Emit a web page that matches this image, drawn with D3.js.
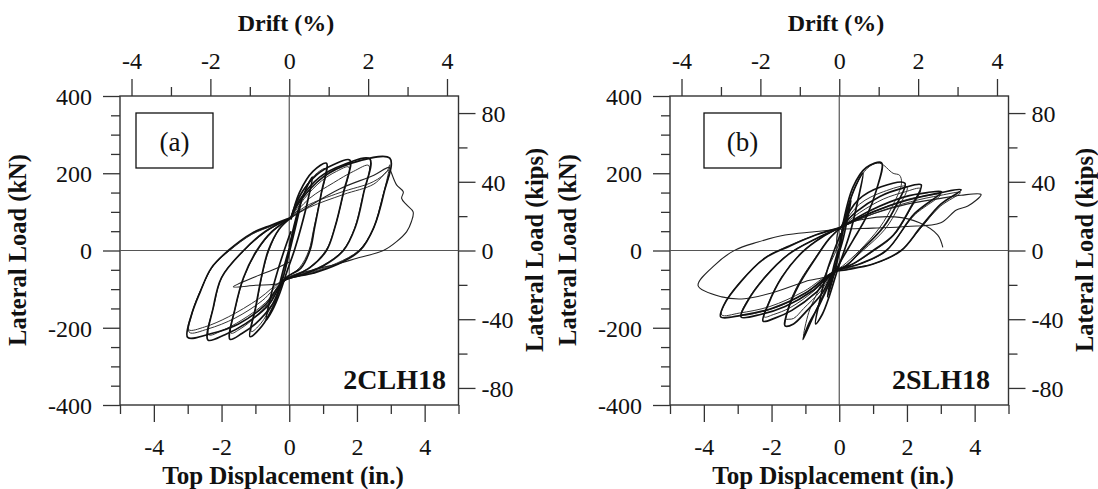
<!DOCTYPE html>
<html>
<head>
<meta charset="utf-8">
<script src="https://cdn.jsdelivr.net/npm/d3@7"></script>
<style>
  body { margin: 0; background: #fff; }
  svg text { font-family: "Liberation Serif", "Times New Roman", serif; fill: #111; }
</style>
</head>
<body>
<svg id="chart" width="1098" height="489"></svg>
<script>
// axis ranges and tick values
const dispDomain = [-5, 5];          // top displacement, in.
const loadDomain = [-400, 400];      // lateral load, kN
const inPerDrift = 1.165;            // in. of displacement per 1 % drift
const kNPerKip = 4.448;

const dispMajor = [-4, -2, 0, 2, 4];
const dispMinor = [-5, -3, -1, 1, 3, 5];
const driftMajor = [-4, -2, 0, 2, 4];
const driftMinor = [-3, -1, 1, 3];
const kNMajor = [-400, -200, 0, 200, 400];
const kNMinor = [-350, -300, -250, -150, -100, -50, 50, 100, 150, 250, 300, 350];
const kipsMajor = [-80, -40, 0, 40, 80];
const kipsMinor = [-60, -20, 20, 60];

// ---- specimen 2CLH18 : [displacement in., load kN] ----
const loopsA = [
  [[0,5],[0.15,60],[0.35,125],[0.25,85],[0.1,30],[0,-5],[-0.15,-60],[-0.35,-115],[-0.25,-75],[-0.1,-25],[0,5]],
  [[0,10],[0.25,100],[0.5,160],[0.68,190],[0.55,130],[0.35,60],[0.15,0],[-0.05,-50],[-0.3,-115],[-0.5,-155],[-0.68,-180],[-0.55,-120],[-0.35,-55],[-0.15,0],[0.05,50]],
  [[0.05,80],[0.3,150],[0.7,205],[1.1,226],[0.95,150],[0.75,60],[0.61,0],[0.35,-45],[-0.15,-75],[-0.45,-140],[-0.8,-195],[-1.16,-223],[-1.0,-150],[-0.8,-60],[-0.62,0],[-0.3,55],[0.05,85]],
  [[0.05,85],[0.3,140],[0.8,195],[1.3,222],[1.79,234],[1.6,150],[1.35,60],[1.1,0],[0.6,-45],[0.1,-68],[-0.15,-78],[-0.5,-140],[-1.0,-190],[-1.4,-215],[-1.75,-230],[-1.6,-150],[-1.35,-70],[-0.96,0],[-0.5,50],[0.05,85]],
  [[0.05,85],[0.3,130],[0.9,190],[1.6,222],[2.38,237],[2.2,150],[1.95,60],[1.6,0],[1.0,-40],[0.3,-65],[-0.15,-78],[-0.6,-140],[-1.3,-190],[-1.9,-218],[-2.4,-232],[-2.25,-150],[-2.0,-70],[-1.35,0],[-0.7,50],[0.05,85]],
  [[0.05,85],[0.3,125],[1.0,190],[1.8,225],[2.97,239],[2.8,150],[2.5,60],[2.09,0],[1.4,-37],[0.7,-59],[-0.15,-78],[-0.7,-140],[-1.5,-190],[-2.3,-215],[-3.0,-225],[-2.9,-170],[-2.63,-107],[-2.3,-45],[-1.8,0],[-1.1,45],[-0.52,66],[0.05,85]]
];
const repeatsA = [
  [[0.05,85],[0.35,145],[0.75,195],[1.08,212],[0.93,140],[0.72,55],[0.58,0],[0.3,-45],[-0.15,-76],[-0.5,-140],[-0.85,-190],[-1.12,-210],[-0.97,-140],[-0.78,-55],[-0.6,0],[-0.3,55],[0.05,85]],
  [[0.05,85],[0.45,135],[0.95,180],[1.4,205],[1.76,216],[1.58,140],[1.33,55],[1.08,0],[0.55,-47],[-0.15,-76],[-0.6,-135],[-1.1,-180],[-1.45,-203],[-1.72,-214],[-1.57,-140],[-1.32,-65],[-0.94,0],[-0.5,48],[0.05,85]],
  [[0.05,85],[0.6,135],[1.3,175],[1.9,205],[2.35,220],[2.17,140],[1.92,55],[1.58,0],[1.0,-38],[0.3,-63],[-0.15,-76],[-0.7,-135],[-1.4,-180],[-2.0,-208],[-2.38,-218],[-2.22,-140],[-1.97,-65],[-1.33,0],[-0.7,48],[0.05,85]],
  [[0.05,85],[0.5,115],[1.5,150],[2.48,178],[2.88,204],[2.97,222],[2.78,145],[2.48,55],[2.07,0],[1.4,-35],[0.7,-57],[-0.15,-76],[-0.8,-130],[-1.6,-175],[-2.4,-203],[-2.95,-212],[-2.86,-160],[-2.6,-100],[-2.27,-42],[-1.78,0],[-1.1,43],[-0.5,65],[0.05,85]],
  [[0.05,85],[0.6,112],[1.6,145],[2.5,172],[2.95,208],[2.76,140],[2.46,52],[2.05,0],[1.4,-33],[0.7,-55],[-0.15,-75],[-0.9,-125],[-1.8,-172],[-2.5,-198],[-2.97,-205],[-2.85,-155],[-2.58,-95],[-2.25,-40],[-1.76,0],[-1.1,42],[-0.5,64],[0.05,85]]
];
const finalA = [
  [[0.05,85],[0.5,110],[1.5,160],[2.5,195],[2.95,215],[3.0,205],[3.17,170],[3.37,152],[3.32,135],[3.47,118],[3.66,100],[3.61,75],[3.47,49],[3.17,23],[2.78,0],[2.0,-20],[1.5,-33],[0.71,-50],[0.02,-68],[-0.27,-85],[-1.0,-90],[-1.65,-94],[-1.0,-68],[-0.37,-46],[0.0,-30]]
];

// ---- specimen 2SLH18 ----
const loopsB = [
  [[0,5],[0.15,65],[0.35,130],[0.25,85],[0.1,25],[0,-5],[-0.15,-60],[-0.35,-120],[-0.25,-75],[-0.1,-20],[0,5]],
  [[0,10],[0.25,110],[0.5,170],[0.7,200],[0.55,130],[0.35,55],[0.15,0],[-0.05,-50],[-0.3,-120],[-0.5,-165],[-0.7,-190],[-0.55,-120],[-0.35,-50],[-0.15,0],[0.05,45]],
  [[0.1,65],[0.41,165],[0.8,215],[1.25,227],[1.1,157],[0.8,87],[0.41,27],[0.01,-33],[-0.38,-102],[-0.77,-171],[-1.07,-230],[-0.9,-190],[-0.58,-140],[-0.28,-80],[0.0,0],[0.1,65]],
  [[0.05,60],[0.56,131],[1.24,165],[1.94,174],[1.7,120],[1.3,60],[0.65,0],[0.2,-40],[-0.15,-55],[-0.5,-110],[-1.0,-160],[-1.35,-190],[-1.6,-195],[-1.5,-150],[-1.2,-90],[-0.7,-20],[-0.3,30],[0.05,60]],
  [[0.05,60],[0.5,100],[1.2,140],[1.9,162],[2.42,170],[2.1,110],[1.6,40],[1.0,0],[0.4,-35],[-0.15,-55],[-0.7,-110],[-1.4,-155],[-1.9,-175],[-2.25,-183],[-2.1,-140],[-1.7,-70],[-1.1,-5],[-0.5,35],[0.05,60]],
  [[0.05,60],[0.95,105],[1.93,139],[2.6,150],[3.02,152],[2.23,96],[1.39,0],[0.6,-35],[-0.15,-55],[-0.8,-105],[-1.6,-145],[-2.3,-165],[-2.9,-172],[-2.7,-130],[-2.2,-70],[-1.5,-10],[-0.7,30],[0.05,60]],
  [[0.05,60],[1.0,100],[2.0,130],[3.0,150],[3.6,157],[3.0,120],[2.4,60],[1.83,0],[1.0,-35],[0.2,-50],[-0.15,-55],[-1.0,-110],[-2.0,-150],[-2.9,-168],[-3.5,-172],[-3.4,-140],[-2.9,-80],[-2.2,-20],[-1.5,10],[-0.7,40],[0.05,60]]
];
const repeatsB = [
  [[0.1,62],[0.5,170],[0.9,218],[1.2,226],[1.59,200],[1.78,195],[1.84,174],[1.6,120],[1.2,60],[0.6,0],[0.1,-40],[-0.15,-55],[-0.5,-120],[-0.8,-175],[-1.05,-222],[-0.9,-160],[-0.6,-100],[-0.3,-40],[0.0,20],[0.1,60]],
  [[0.05,60],[0.6,120],[1.3,152],[2.0,165],[1.75,112],[1.35,55],[0.7,0],[0.2,-38],[-0.15,-55],[-0.55,-105],[-1.05,-150],[-1.35,-176],[-1.6,-180],[-1.62,-193],[-1.48,-140],[-1.18,-82],[-0.7,-18],[-0.3,30],[0.05,60]],
  [[0.05,60],[0.6,98],[1.3,133],[1.95,152],[2.4,160],[2.08,104],[1.58,36],[1.0,-2],[0.4,-35],[-0.15,-55],[-0.75,-105],[-1.45,-148],[-1.95,-166],[-2.22,-172],[-2.07,-132],[-1.67,-65],[-1.08,-3],[-0.5,35],[0.05,60]],
  [[0.05,60],[1.0,100],[2.0,132],[2.6,142],[3.0,145],[2.2,90],[1.37,-2],[0.6,-35],[-0.15,-55],[-0.85,-102],[-1.65,-140],[-2.35,-160],[-2.88,-165],[-2.68,-125],[-2.18,-66],[-1.48,-8],[-0.7,30],[0.05,60]],
  [[0.05,60],[1.1,98],[2.1,126],[3.0,143],[3.58,150],[2.98,114],[2.38,55],[1.8,-2],[1.0,-35],[-0.15,-55],[-1.05,-106],[-2.05,-145],[-2.95,-162],[-3.47,-167],[-3.37,-135],[-2.87,-76],[-2.18,-18],[-1.5,12],[-0.7,40],[0.05,60]]
];
const finalB = [
  [[0.05,60],[1.0,95],[2.0,120],[3.0,135],[3.6,143],[4.19,145],[3.8,115],[3.46,105],[3.0,72],[2.0,62],[1.0,58],[0.05,55],[-0.8,48],[-1.6,40],[-2.4,22],[-3.08,1],[-3.67,-37],[-4.17,-91],[-3.47,-120],[-2.8,-125],[-2.0,-110],[-1.0,-80],[-0.15,-55],[0.01,57],[0.8,82],[1.64,87],[2.37,72],[2.91,40],[3.06,8]]
];

const svg = d3.select('#chart');
svg.append('rect').attr('width', 1098).attr('height', 489).attr('fill', '#fff');

const plot = { left: 120, right: 458.5, top: 96, bottom: 405 };

function styleAxis(sel, fontSize) {
  sel.select('.domain').remove();
  sel.selectAll('line').attr('stroke', '#333').attr('stroke-width', 1.3);
  sel.selectAll('text').attr('font-size', fontSize).attr('fill', '#111');
}

function drawPanel(p) {
  const g = svg.append('g').attr('transform', 'translate(' + p.dx + ',0)');

  const x = d3.scaleLinear().domain(dispDomain).range([plot.left, plot.right]);
  const y = d3.scaleLinear().domain(loadDomain).range([plot.bottom, plot.top]);
  const xTop = d3.scaleLinear()
    .domain([dispDomain[0] / inPerDrift, dispDomain[1] / inPerDrift])
    .range([plot.left, plot.right]);
  const yRight = d3.scaleLinear()
    .domain([loadDomain[0] / kNPerKip, loadDomain[1] / kNPerKip])
    .range([plot.bottom, plot.top]);

  const fmt = d => String(d);
  const fs = 24;

  // bottom axis
  g.append('g').attr('transform', 'translate(0,' + plot.bottom + ')')
    .call(d3.axisBottom(x).tickValues(dispMinor).tickSize(9).tickFormat(''))
    .call(s => styleAxis(s, fs));
  g.append('g').attr('transform', 'translate(0,' + plot.bottom + ')')
    .call(d3.axisBottom(x).tickValues(dispMajor).tickSize(17).tickFormat(fmt))
    .call(s => styleAxis(s, fs))
    .call(s => s.selectAll('text').attr('y', 50).attr('dy', 0));

  // top axis (drift)
  g.append('g').attr('transform', 'translate(0,' + plot.top + ')')
    .call(d3.axisTop(xTop).tickValues(driftMinor).tickSize(9).tickFormat(''))
    .call(s => styleAxis(s, fs));
  g.append('g').attr('transform', 'translate(0,' + plot.top + ')')
    .call(d3.axisTop(xTop).tickValues(driftMajor).tickSize(17).tickFormat(fmt))
    .call(s => styleAxis(s, fs))
    .call(s => s.selectAll('text').attr('y', -27).attr('dy', 0));

  // left axis (kN)
  g.append('g').attr('transform', 'translate(' + plot.left + ',0)')
    .call(d3.axisLeft(y).tickValues(kNMinor).tickSize(9).tickFormat(''))
    .call(s => styleAxis(s, fs));
  g.append('g').attr('transform', 'translate(' + plot.left + ',0)')
    .call(d3.axisLeft(y).tickValues(kNMajor).tickSize(17).tickFormat(fmt))
    .call(s => styleAxis(s, fs))
    .call(s => s.selectAll('text').attr('x', -28).attr('dy', '0.35em'));

  // right axis (kips)
  g.append('g').attr('transform', 'translate(' + plot.right + ',0)')
    .call(d3.axisRight(yRight).tickValues(kipsMinor).tickSize(9).tickFormat(''))
    .call(s => styleAxis(s, fs));
  g.append('g').attr('transform', 'translate(' + plot.right + ',0)')
    .call(d3.axisRight(yRight).tickValues(kipsMajor).tickSize(17).tickFormat(fmt))
    .call(s => styleAxis(s, fs))
    .call(s => s.selectAll('text').attr('x', 23).attr('dy', '0.35em'));

  // frame and zero lines
  g.append('rect')
    .attr('x', plot.left).attr('y', plot.top)
    .attr('width', plot.right - plot.left).attr('height', plot.bottom - plot.top)
    .attr('fill', 'none').attr('stroke', '#333').attr('stroke-width', 1.4);
  g.append('line')
    .attr('x1', x(0)).attr('x2', x(0)).attr('y1', plot.top).attr('y2', plot.bottom)
    .attr('stroke', '#555').attr('stroke-width', 1.2);
  g.append('line')
    .attr('x1', plot.left).attr('x2', plot.right).attr('y1', y(0)).attr('y2', y(0))
    .attr('stroke', '#555').attr('stroke-width', 1.2);

  // hysteresis loops
  const line = d3.line()
    .x(d => x(d[0]))
    .y(d => y(d[1]))
    .curve(d3.curveCatmullRom.alpha(0.5));

  g.append('g').selectAll('path').data(p.repeats).join('path')
    .attr('d', line).attr('fill', 'none')
    .attr('stroke', '#333').attr('stroke-width', 1.0).attr('stroke-linejoin', 'round');
  g.append('g').selectAll('path').data(p.final).join('path')
    .attr('d', line).attr('fill', 'none')
    .attr('stroke', '#222').attr('stroke-width', 1.1).attr('stroke-linejoin', 'round');
  g.append('g').selectAll('path').data(p.loops).join('path')
    .attr('d', line).attr('fill', 'none')
    .attr('stroke', '#111').attr('stroke-width', 1.7).attr('stroke-linejoin', 'round');

  // titles
  g.append('text').attr('x', 286).attr('y', 31)
    .attr('text-anchor', 'middle').attr('font-size', 24).attr('font-weight', 'bold')
    .text('Drift (%)');
  g.append('text').attr('x', 283).attr('y', 484)
    .attr('text-anchor', 'middle').attr('font-size', 25).attr('font-weight', 'bold')
    .text('Top Displacement (in.)');
  g.append('text').attr('transform', 'translate(26,250) rotate(-90)')
    .attr('text-anchor', 'middle').attr('font-size', 24.5).attr('font-weight', 'bold')
    .text('Lateral Load (kN)');
  g.append('text').attr('transform', 'translate(543,250) rotate(-90)')
    .attr('text-anchor', 'middle').attr('font-size', 24.5).attr('font-weight', 'bold')
    .text('Lateral Load (kips)');

  // specimen name
  g.append('text').attr('x', p.nameX).attr('y', 389)
    .attr('text-anchor', 'end').attr('font-size', 28).attr('font-weight', 'bold')
    .text(p.name);

  // panel tag box
  g.append('rect')
    .attr('x', p.boxX).attr('y', 113).attr('width', 77).attr('height', 55)
    .attr('fill', '#fff').attr('stroke', '#111').attr('stroke-width', 1.3);
  g.append('text').attr('x', p.boxX + 38.5).attr('y', 151)
    .attr('text-anchor', 'middle').attr('font-size', 27)
    .text(p.tag);
}

drawPanel({ dx: 0, loops: loopsA, repeats: repeatsA, final: finalA, name: '2CLH18', nameX: 446, boxX: 136, tag: '(a)' });
drawPanel({ dx: 550, loops: loopsB, repeats: repeatsB, final: finalB, name: '2SLH18', nameX: 440, boxX: 154, tag: '(b)' });
</script>
</body>
</html>
